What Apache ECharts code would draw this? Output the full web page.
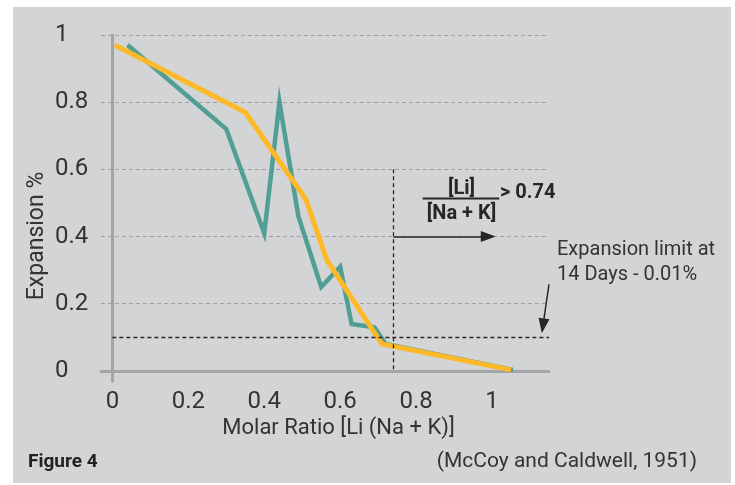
<!DOCTYPE html>
<html><head><meta charset="utf-8">
<script src="https://cdn.jsdelivr.net/npm/echarts@6/dist/echarts.min.js"></script>
<style>
html,body{margin:0;padding:0;background:#fff;}
#bg{position:absolute;left:13px;top:7px;width:718px;height:476px;background:#d3d4d6;}
#chart{position:absolute;left:0;top:0;width:735px;height:485px;}
</style></head><body>
<div id="bg"></div><div id="chart"></div>
<script>
// Molar ratio (x) and expansion % (y) for the two curves
const tealX   = [0.04, 0.30, 0.40, 0.44, 0.49, 0.55, 0.60, 0.63, 0.69, 0.72, 1.055];
const tealY   = [0.97, 0.72, 0.41, 0.80, 0.46, 0.25, 0.31, 0.14, 0.13, 0.08, 0.003];
const orangeX = [0.006, 0.35, 0.51, 0.565, 0.71, 1.05];
const orangeY = [0.97, 0.77, 0.51, 0.33, 0.08, 0.003];
const tickValues = [0, 0.2, 0.4, 0.6, 0.8, 1];
const gridValues = [0.2, 0.4, 0.6, 0.8, 1];
const ratioThreshold = 0.74;
const expansionLimit = 0.1;

const chart = echarts.init(document.getElementById('chart'), null, {renderer: 'canvas'});
const FONT = 'Roboto, "Liberation Sans", sans-serif';
const dark = '#262626';
const fmt = v => String(+(+v).toFixed(2));

const option = {
  animation: false,
  backgroundColor: 'transparent',
  textStyle: {fontFamily: FONT},
  grid: {left: 101, right: 186, top: 35, bottom: 104, containLabel: false, outerBoundsMode: 'none'},
  xAxis: {
    type: 'value', min: -0.03, max: 1.15,
    axisLine: {onZero: true, lineStyle: {color: '#a3a4a6', width: 3}},
    axisTick: {show: false},
    splitLine: {show: false},
    axisLabel: {customValues: tickValues, formatter: fmt, fontSize: 24, color: '#333', margin: 9, fontFamily: FONT}
  },
  yAxis: {
    type: 'value', min: -0.03, max: 1,
    axisLine: {onZero: true, lineStyle: {color: '#a3a4a6', width: 3}},
    axisTick: {show: false},
    splitLine: {show: false},
    axisLabel: {customValues: tickValues, formatter: fmt, fontSize: 24, color: '#333', margin: 46, align: 'left', fontFamily: FONT}
  },
  series: [
    {
      type: 'line', name: 'grid', data: [], silent: true,
      markLine: {
        silent: true, z: 1, symbol: ['none', 'none'], label: {show: false},
        lineStyle: {color: '#a0a1a3', type: [4, 3], width: 1.2},
        data: gridValues.map(v => ({yAxis: v}))
      }
    },
    {
      type: 'line', name: 'Series A', z: 3, symbol: 'none', silent: true,
      data: tealX.map((x, i) => [x, tealY[i]]),
      lineStyle: {color: '#509e94', width: 4.5, join: 'miter'}
    },
    {
      type: 'line', name: 'Series B', z: 4, symbol: 'none', silent: true,
      data: orangeX.map((x, i) => [x, orangeY[i]]),
      lineStyle: {color: '#fdb927', width: 5, join: 'miter'}
    },
    {
      type: 'line', name: 'annot', data: [], silent: true,
      markLine: {
        silent: true, z: 6, symbol: ['none', 'none'], label: {show: false},
        data: [
          [{coord: [ratioThreshold, 0.6], lineStyle: {color: dark, type: [4, 3], width: 1.3}},
           {coord: [ratioThreshold, 0]}],
          [{coord: [0, expansionLimit], lineStyle: {color: dark, type: [4, 3], width: 1.3}},
           {coord: [1.15, expansionLimit]}],
          [{coord: [ratioThreshold, 0.4], lineStyle: {color: dark, type: 'solid', width: 1.5}},
           {coord: [0.99, 0.4], symbol: 'triangle', symbolSize: [11, 15]}],
          [{coord: [1.15, 0.258], lineStyle: {color: dark, type: 'solid', width: 1.5}},
           {coord: [1.134, 0.134], symbol: 'triangle', symbolSize: [11, 15]}]
        ]
      }
    }
  ],
  graphic: [
    {type: 'text', x: 461.5, y: 189, style: {text: '[Li]', font: 'bold 20px ' + FONT, fill: dark, align: 'center', verticalAlign: 'middle'}},
    {type: 'line', shape: {x1: 422.7, y1: 198.5, x2: 499.3, y2: 198.5}, style: {stroke: dark, lineWidth: 2}},
    {type: 'text', x: 461.5, y: 214, style: {text: '[Na + K]', font: 'bold 20px ' + FONT, fill: dark, align: 'center', verticalAlign: 'middle'}},
    {type: 'text', x: 500, y: 193, style: {text: '> 0.74', font: 'bold 20px ' + FONT, fill: dark, align: 'left', verticalAlign: 'middle'}},
    {type: 'text', x: 557, y: 250, style: {text: 'Expansion limit at', font: '20px ' + FONT, fill: '#333', align: 'left', verticalAlign: 'middle'}},
    {type: 'text', x: 557, y: 275, style: {text: '14 Days - 0.01%', font: '20px ' + FONT, fill: '#333', align: 'left', verticalAlign: 'middle'}},
    {type: 'text', x: 338.5, y: 428, style: {text: 'Molar Ratio [Li (Na + K)]', font: '22px ' + FONT, fill: '#333', align: 'center', verticalAlign: 'middle'}},
    {type: 'text', x: 37, y: 236, rotation: Math.PI / 2, style: {text: 'Expansion %', font: '23px ' + FONT, fill: '#333', align: 'center', verticalAlign: 'middle'}},
    {type: 'text', x: 28, y: 462, style: {text: 'Figure 4', font: 'bold 19px ' + FONT, fill: '#222', align: 'left', verticalAlign: 'middle'}},
    {type: 'text', x: 697, y: 462, style: {text: '(McCoy and Caldwell, 1951)', font: '21px ' + FONT, fill: '#333', align: 'right', verticalAlign: 'middle'}}
  ]
};
chart.setOption(option);
</script>
</body></html>
